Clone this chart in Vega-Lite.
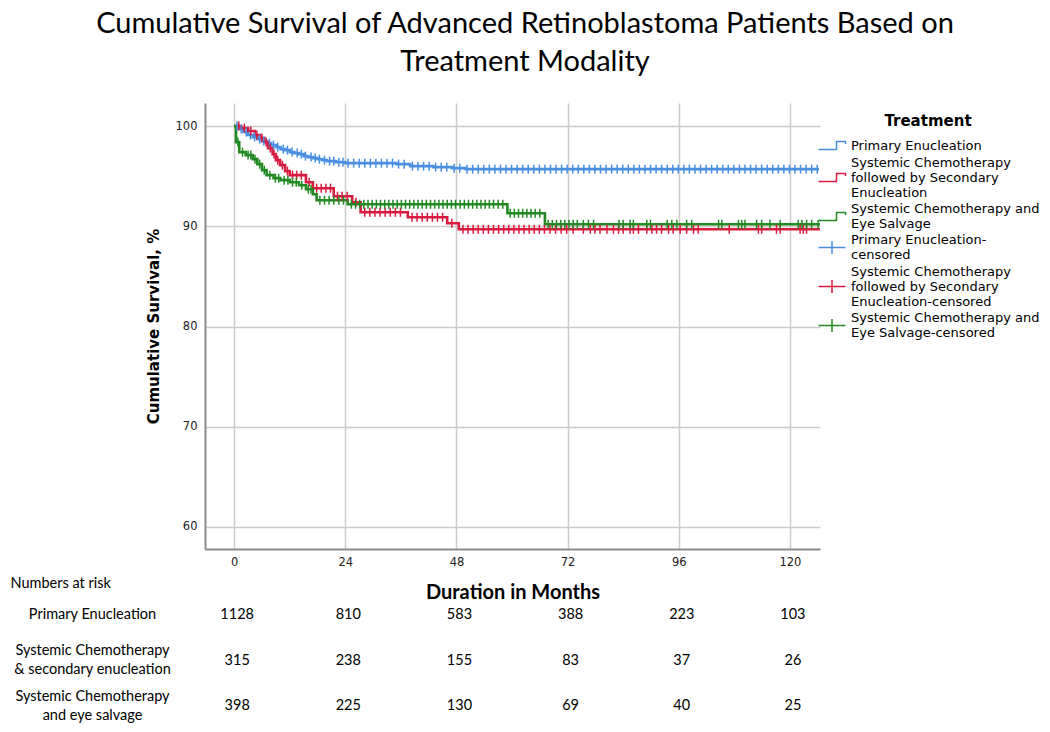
{
  "$schema": "https://vega.github.io/schema/vega-lite/v6.json",
  "padding": {"left": 10, "top": 10, "right": 0, "bottom": 0},
  "title": {
    "text": ["Cumulative Survival of Advanced Retinoblastoma Patients Based on", "Treatment Modality"],
    "font": "Lato", "fontSize": 29, "fontWeight": "normal", "color": "black",
    "lineHeight": 38, "anchor": "middle", "offset": 26
  },
  "bounds": "flush",
  "spacing": 43,
  "datasets": {
    "curves": [
      {"treatment": "PE", "month": 0, "survival": 100},
      {"treatment": "PE", "month": 1, "survival": 99.7},
      {"treatment": "PE", "month": 2, "survival": 99.4},
      {"treatment": "PE", "month": 3, "survival": 99.1},
      {"treatment": "PE", "month": 4, "survival": 98.9},
      {"treatment": "PE", "month": 5, "survival": 98.7},
      {"treatment": "PE", "month": 6, "survival": 98.5},
      {"treatment": "PE", "month": 7, "survival": 98.3},
      {"treatment": "PE", "month": 8, "survival": 98.1},
      {"treatment": "PE", "month": 9, "survival": 97.9},
      {"treatment": "PE", "month": 10, "survival": 97.7},
      {"treatment": "PE", "month": 11, "survival": 97.6},
      {"treatment": "PE", "month": 12, "survival": 97.4},
      {"treatment": "PE", "month": 13, "survival": 97.3},
      {"treatment": "PE", "month": 14, "survival": 97.2},
      {"treatment": "PE", "month": 15, "survival": 97.0},
      {"treatment": "PE", "month": 16, "survival": 96.9},
      {"treatment": "PE", "month": 17, "survival": 96.8},
      {"treatment": "PE", "month": 18, "survival": 96.7},
      {"treatment": "PE", "month": 19, "survival": 96.6},
      {"treatment": "PE", "month": 20, "survival": 96.5},
      {"treatment": "PE", "month": 22, "survival": 96.4},
      {"treatment": "PE", "month": 24, "survival": 96.3},
      {"treatment": "PE", "month": 35, "survival": 96.2},
      {"treatment": "PE", "month": 38, "survival": 96.0},
      {"treatment": "PE", "month": 43, "survival": 95.9},
      {"treatment": "PE", "month": 47, "survival": 95.8},
      {"treatment": "PE", "month": 50, "survival": 95.7},
      {"treatment": "PE", "month": 126.3, "survival": 95.7},
      {"treatment": "SCSE", "month": 0, "survival": 100},
      {"treatment": "SCSE", "month": 1.5, "survival": 99.8},
      {"treatment": "SCSE", "month": 3, "survival": 99.5},
      {"treatment": "SCSE", "month": 4.5, "survival": 99.1},
      {"treatment": "SCSE", "month": 5.6, "survival": 98.8},
      {"treatment": "SCSE", "month": 6.5, "survival": 98.4},
      {"treatment": "SCSE", "month": 7.3, "survival": 97.8},
      {"treatment": "SCSE", "month": 8.3, "survival": 97.2},
      {"treatment": "SCSE", "month": 9, "survival": 96.6},
      {"treatment": "SCSE", "month": 9.9, "survival": 96.1},
      {"treatment": "SCSE", "month": 11, "survival": 95.5},
      {"treatment": "SCSE", "month": 12, "survival": 95.1},
      {"treatment": "SCSE", "month": 15.5, "survival": 94.4},
      {"treatment": "SCSE", "month": 17, "survival": 93.8},
      {"treatment": "SCSE", "month": 21.5, "survival": 93.0},
      {"treatment": "SCSE", "month": 25.5, "survival": 92.4},
      {"treatment": "SCSE", "month": 27.3, "survival": 91.4},
      {"treatment": "SCSE", "month": 37.5, "survival": 90.9},
      {"treatment": "SCSE", "month": 46, "survival": 90.3},
      {"treatment": "SCSE", "month": 48.5, "survival": 89.7},
      {"treatment": "SCSE", "month": 126.5, "survival": 89.7},
      {"treatment": "SCES", "month": 0, "survival": 100},
      {"treatment": "SCES", "month": 0.4, "survival": 98.4},
      {"treatment": "SCES", "month": 1.1, "survival": 97.4},
      {"treatment": "SCES", "month": 2.5, "survival": 97.1},
      {"treatment": "SCES", "month": 4, "survival": 96.7},
      {"treatment": "SCES", "month": 5, "survival": 96.2},
      {"treatment": "SCES", "month": 6, "survival": 95.6},
      {"treatment": "SCES", "month": 7, "survival": 95.1},
      {"treatment": "SCES", "month": 8.5, "survival": 94.8},
      {"treatment": "SCES", "month": 10, "survival": 94.6},
      {"treatment": "SCES", "month": 12, "survival": 94.4},
      {"treatment": "SCES", "month": 14, "survival": 94.1},
      {"treatment": "SCES", "month": 15.5, "survival": 93.7},
      {"treatment": "SCES", "month": 17, "survival": 93.2},
      {"treatment": "SCES", "month": 17.8, "survival": 92.6},
      {"treatment": "SCES", "month": 24.5, "survival": 92.2},
      {"treatment": "SCES", "month": 59, "survival": 91.3},
      {"treatment": "SCES", "month": 67.1, "survival": 90.2},
      {"treatment": "SCES", "month": 126.5, "survival": 90.2}
    ],
    "censored": [
      {"treatment": "PE-c", "month": 0.6, "survival": 100},
      {"treatment": "PE-c", "month": 1.5, "survival": 99.7},
      {"treatment": "PE-c", "month": 2.6, "survival": 99.4},
      {"treatment": "PE-c", "month": 3.5, "survival": 99.1},
      {"treatment": "PE-c", "month": 4.4, "survival": 98.9},
      {"treatment": "PE-c", "month": 5.5, "survival": 98.7},
      {"treatment": "PE-c", "month": 6.4, "survival": 98.5},
      {"treatment": "PE-c", "month": 7.6, "survival": 98.3},
      {"treatment": "PE-c", "month": 8.5, "survival": 98.1},
      {"treatment": "PE-c", "month": 9.4, "survival": 97.9},
      {"treatment": "PE-c", "month": 10.6, "survival": 97.7},
      {"treatment": "PE-c", "month": 11.5, "survival": 97.6},
      {"treatment": "PE-c", "month": 12.5, "survival": 97.4},
      {"treatment": "PE-c", "month": 13.6, "survival": 97.3},
      {"treatment": "PE-c", "month": 14.5, "survival": 97.2},
      {"treatment": "PE-c", "month": 15.4, "survival": 97.0},
      {"treatment": "PE-c", "month": 16.6, "survival": 96.9},
      {"treatment": "PE-c", "month": 17.5, "survival": 96.8},
      {"treatment": "PE-c", "month": 18.4, "survival": 96.7},
      {"treatment": "PE-c", "month": 19.5, "survival": 96.6},
      {"treatment": "PE-c", "month": 20.6, "survival": 96.5},
      {"treatment": "PE-c", "month": 21.5, "survival": 96.5},
      {"treatment": "PE-c", "month": 22.6, "survival": 96.4},
      {"treatment": "PE-c", "month": 23.5, "survival": 96.4},
      {"treatment": "PE-c", "month": 24.6, "survival": 96.3},
      {"treatment": "PE-c", "month": 25.8, "survival": 96.3},
      {"treatment": "PE-c", "month": 27, "survival": 96.3},
      {"treatment": "PE-c", "month": 28.2, "survival": 96.3},
      {"treatment": "PE-c", "month": 29.4, "survival": 96.3},
      {"treatment": "PE-c", "month": 30.6, "survival": 96.3},
      {"treatment": "PE-c", "month": 31.8, "survival": 96.3},
      {"treatment": "PE-c", "month": 33, "survival": 96.3},
      {"treatment": "PE-c", "month": 34.2, "survival": 96.3},
      {"treatment": "PE-c", "month": 35.5, "survival": 96.2},
      {"treatment": "PE-c", "month": 36.7, "survival": 96.2},
      {"treatment": "PE-c", "month": 38.5, "survival": 96.0},
      {"treatment": "PE-c", "month": 39.7, "survival": 96.0},
      {"treatment": "PE-c", "month": 40.9, "survival": 96.0},
      {"treatment": "PE-c", "month": 42.1, "survival": 96.0},
      {"treatment": "PE-c", "month": 43.5, "survival": 95.9},
      {"treatment": "PE-c", "month": 44.7, "survival": 95.9},
      {"treatment": "PE-c", "month": 45.9, "survival": 95.9},
      {"treatment": "PE-c", "month": 47.5, "survival": 95.8},
      {"treatment": "PE-c", "month": 48.7, "survival": 95.8},
      {"treatment": "PE-c", "month": 50.3, "survival": 95.7},
      {"treatment": "PE-c", "month": 51.5, "survival": 95.7},
      {"treatment": "PE-c", "month": 52.7, "survival": 95.7},
      {"treatment": "PE-c", "month": 53.9, "survival": 95.7},
      {"treatment": "PE-c", "month": 55.1, "survival": 95.7},
      {"treatment": "PE-c", "month": 56.3, "survival": 95.7},
      {"treatment": "PE-c", "month": 57.5, "survival": 95.7},
      {"treatment": "PE-c", "month": 58.7, "survival": 95.7},
      {"treatment": "PE-c", "month": 59.9, "survival": 95.7},
      {"treatment": "PE-c", "month": 61.1, "survival": 95.7},
      {"treatment": "PE-c", "month": 62.3, "survival": 95.7},
      {"treatment": "PE-c", "month": 63.5, "survival": 95.7},
      {"treatment": "PE-c", "month": 64.7, "survival": 95.7},
      {"treatment": "PE-c", "month": 65.9, "survival": 95.7},
      {"treatment": "PE-c", "month": 67.1, "survival": 95.7},
      {"treatment": "PE-c", "month": 68.3, "survival": 95.7},
      {"treatment": "PE-c", "month": 69.5, "survival": 95.7},
      {"treatment": "PE-c", "month": 70.7, "survival": 95.7},
      {"treatment": "PE-c", "month": 71.9, "survival": 95.7},
      {"treatment": "PE-c", "month": 73.1, "survival": 95.7},
      {"treatment": "PE-c", "month": 74.3, "survival": 95.7},
      {"treatment": "PE-c", "month": 75.5, "survival": 95.7},
      {"treatment": "PE-c", "month": 76.7, "survival": 95.7},
      {"treatment": "PE-c", "month": 77.9, "survival": 95.7},
      {"treatment": "PE-c", "month": 79.1, "survival": 95.7},
      {"treatment": "PE-c", "month": 80.3, "survival": 95.7},
      {"treatment": "PE-c", "month": 81.5, "survival": 95.7},
      {"treatment": "PE-c", "month": 82.7, "survival": 95.7},
      {"treatment": "PE-c", "month": 83.9, "survival": 95.7},
      {"treatment": "PE-c", "month": 85.1, "survival": 95.7},
      {"treatment": "PE-c", "month": 86.3, "survival": 95.7},
      {"treatment": "PE-c", "month": 87.5, "survival": 95.7},
      {"treatment": "PE-c", "month": 88.7, "survival": 95.7},
      {"treatment": "PE-c", "month": 89.9, "survival": 95.7},
      {"treatment": "PE-c", "month": 91.1, "survival": 95.7},
      {"treatment": "PE-c", "month": 92.3, "survival": 95.7},
      {"treatment": "PE-c", "month": 93.5, "survival": 95.7},
      {"treatment": "PE-c", "month": 94.7, "survival": 95.7},
      {"treatment": "PE-c", "month": 95.9, "survival": 95.7},
      {"treatment": "PE-c", "month": 97.1, "survival": 95.7},
      {"treatment": "PE-c", "month": 98.3, "survival": 95.7},
      {"treatment": "PE-c", "month": 99.5, "survival": 95.7},
      {"treatment": "PE-c", "month": 100.7, "survival": 95.7},
      {"treatment": "PE-c", "month": 101.9, "survival": 95.7},
      {"treatment": "PE-c", "month": 103.1, "survival": 95.7},
      {"treatment": "PE-c", "month": 104.3, "survival": 95.7},
      {"treatment": "PE-c", "month": 105.5, "survival": 95.7},
      {"treatment": "PE-c", "month": 106.7, "survival": 95.7},
      {"treatment": "PE-c", "month": 107.9, "survival": 95.7},
      {"treatment": "PE-c", "month": 109.1, "survival": 95.7},
      {"treatment": "PE-c", "month": 110.3, "survival": 95.7},
      {"treatment": "PE-c", "month": 111.5, "survival": 95.7},
      {"treatment": "PE-c", "month": 112.7, "survival": 95.7},
      {"treatment": "PE-c", "month": 113.9, "survival": 95.7},
      {"treatment": "PE-c", "month": 115.1, "survival": 95.7},
      {"treatment": "PE-c", "month": 116.3, "survival": 95.7},
      {"treatment": "PE-c", "month": 117.5, "survival": 95.7},
      {"treatment": "PE-c", "month": 118.7, "survival": 95.7},
      {"treatment": "PE-c", "month": 119.9, "survival": 95.7},
      {"treatment": "PE-c", "month": 121.1, "survival": 95.7},
      {"treatment": "PE-c", "month": 122.3, "survival": 95.7},
      {"treatment": "PE-c", "month": 123.5, "survival": 95.7},
      {"treatment": "PE-c", "month": 124.7, "survival": 95.7},
      {"treatment": "PE-c", "month": 125.9, "survival": 95.7},
      {"treatment": "SCSE-c", "month": 1, "survival": 100},
      {"treatment": "SCSE-c", "month": 2.2, "survival": 99.8},
      {"treatment": "SCSE-c", "month": 3.6, "survival": 99.5},
      {"treatment": "SCSE-c", "month": 4.9, "survival": 99.1},
      {"treatment": "SCSE-c", "month": 6, "survival": 98.8},
      {"treatment": "SCSE-c", "month": 6.9, "survival": 98.4},
      {"treatment": "SCSE-c", "month": 7.8, "survival": 97.8},
      {"treatment": "SCSE-c", "month": 8.6, "survival": 97.2},
      {"treatment": "SCSE-c", "month": 9.4, "survival": 96.6},
      {"treatment": "SCSE-c", "month": 10.4, "survival": 96.1},
      {"treatment": "SCSE-c", "month": 11.5, "survival": 95.5},
      {"treatment": "SCSE-c", "month": 12.6, "survival": 95.1},
      {"treatment": "SCSE-c", "month": 13.5, "survival": 95.1},
      {"treatment": "SCSE-c", "month": 14.5, "survival": 95.1},
      {"treatment": "SCSE-c", "month": 16.2, "survival": 94.4},
      {"treatment": "SCSE-c", "month": 17.8, "survival": 93.8},
      {"treatment": "SCSE-c", "month": 18.8, "survival": 93.8},
      {"treatment": "SCSE-c", "month": 19.8, "survival": 93.8},
      {"treatment": "SCSE-c", "month": 20.8, "survival": 93.8},
      {"treatment": "SCSE-c", "month": 22.3, "survival": 93.0},
      {"treatment": "SCSE-c", "month": 23.3, "survival": 93.0},
      {"treatment": "SCSE-c", "month": 24.4, "survival": 93.0},
      {"treatment": "SCSE-c", "month": 26.3, "survival": 92.4},
      {"treatment": "SCSE-c", "month": 28.2, "survival": 91.4},
      {"treatment": "SCSE-c", "month": 29.3, "survival": 91.4},
      {"treatment": "SCSE-c", "month": 30.4, "survival": 91.4},
      {"treatment": "SCSE-c", "month": 31.5, "survival": 91.4},
      {"treatment": "SCSE-c", "month": 32.6, "survival": 91.4},
      {"treatment": "SCSE-c", "month": 33.7, "survival": 91.4},
      {"treatment": "SCSE-c", "month": 34.8, "survival": 91.4},
      {"treatment": "SCSE-c", "month": 35.9, "survival": 91.4},
      {"treatment": "SCSE-c", "month": 38.4, "survival": 90.9},
      {"treatment": "SCSE-c", "month": 39.5, "survival": 90.9},
      {"treatment": "SCSE-c", "month": 40.6, "survival": 90.9},
      {"treatment": "SCSE-c", "month": 41.7, "survival": 90.9},
      {"treatment": "SCSE-c", "month": 42.8, "survival": 90.9},
      {"treatment": "SCSE-c", "month": 43.9, "survival": 90.9},
      {"treatment": "SCSE-c", "month": 45, "survival": 90.9},
      {"treatment": "SCSE-c", "month": 47, "survival": 90.3},
      {"treatment": "SCSE-c", "month": 49.4, "survival": 89.7},
      {"treatment": "SCSE-c", "month": 50.5, "survival": 89.7},
      {"treatment": "SCSE-c", "month": 51.6, "survival": 89.7},
      {"treatment": "SCSE-c", "month": 52.7, "survival": 89.7},
      {"treatment": "SCSE-c", "month": 53.8, "survival": 89.7},
      {"treatment": "SCSE-c", "month": 54.9, "survival": 89.7},
      {"treatment": "SCSE-c", "month": 56, "survival": 89.7},
      {"treatment": "SCSE-c", "month": 57.1, "survival": 89.7},
      {"treatment": "SCSE-c", "month": 58.2, "survival": 89.7},
      {"treatment": "SCSE-c", "month": 59.3, "survival": 89.7},
      {"treatment": "SCSE-c", "month": 60.4, "survival": 89.7},
      {"treatment": "SCSE-c", "month": 61.5, "survival": 89.7},
      {"treatment": "SCSE-c", "month": 62.6, "survival": 89.7},
      {"treatment": "SCSE-c", "month": 63.7, "survival": 89.7},
      {"treatment": "SCSE-c", "month": 64.8, "survival": 89.7},
      {"treatment": "SCSE-c", "month": 65.9, "survival": 89.7},
      {"treatment": "SCSE-c", "month": 67, "survival": 89.7},
      {"treatment": "SCSE-c", "month": 68.2, "survival": 89.7},
      {"treatment": "SCSE-c", "month": 69.4, "survival": 89.7},
      {"treatment": "SCSE-c", "month": 70.6, "survival": 89.7},
      {"treatment": "SCSE-c", "month": 71.8, "survival": 89.7},
      {"treatment": "SCSE-c", "month": 73.2, "survival": 89.7},
      {"treatment": "SCSE-c", "month": 75.4, "survival": 89.7},
      {"treatment": "SCSE-c", "month": 76.9, "survival": 89.7},
      {"treatment": "SCSE-c", "month": 77.9, "survival": 89.7},
      {"treatment": "SCSE-c", "month": 79, "survival": 89.7},
      {"treatment": "SCSE-c", "month": 80.5, "survival": 89.7},
      {"treatment": "SCSE-c", "month": 81.9, "survival": 89.7},
      {"treatment": "SCSE-c", "month": 83, "survival": 89.7},
      {"treatment": "SCSE-c", "month": 84, "survival": 89.7},
      {"treatment": "SCSE-c", "month": 85.5, "survival": 89.7},
      {"treatment": "SCSE-c", "month": 86.2, "survival": 89.7},
      {"treatment": "SCSE-c", "month": 87.3, "survival": 89.7},
      {"treatment": "SCSE-c", "month": 89.1, "survival": 89.7},
      {"treatment": "SCSE-c", "month": 90.2, "survival": 89.7},
      {"treatment": "SCSE-c", "month": 91.2, "survival": 89.7},
      {"treatment": "SCSE-c", "month": 92.3, "survival": 89.7},
      {"treatment": "SCSE-c", "month": 93.8, "survival": 89.7},
      {"treatment": "SCSE-c", "month": 94.8, "survival": 89.7},
      {"treatment": "SCSE-c", "month": 96.3, "survival": 89.7},
      {"treatment": "SCSE-c", "month": 97.7, "survival": 89.7},
      {"treatment": "SCSE-c", "month": 99.2, "survival": 89.7},
      {"treatment": "SCSE-c", "month": 100.2, "survival": 89.7},
      {"treatment": "SCSE-c", "month": 106.9, "survival": 89.7},
      {"treatment": "SCSE-c", "month": 113.2, "survival": 89.7},
      {"treatment": "SCSE-c", "month": 113.9, "survival": 89.7},
      {"treatment": "SCSE-c", "month": 117.1, "survival": 89.7},
      {"treatment": "SCSE-c", "month": 117.9, "survival": 89.7},
      {"treatment": "SCSE-c", "month": 122.2, "survival": 89.7},
      {"treatment": "SCSE-c", "month": 122.9, "survival": 89.7},
      {"treatment": "SCSE-c", "month": 123.6, "survival": 89.7},
      {"treatment": "SCES-c", "month": 0.8, "survival": 98.4},
      {"treatment": "SCES-c", "month": 1.8, "survival": 97.4},
      {"treatment": "SCES-c", "month": 3, "survival": 97.1},
      {"treatment": "SCES-c", "month": 3.6, "survival": 97.1},
      {"treatment": "SCES-c", "month": 4.5, "survival": 96.7},
      {"treatment": "SCES-c", "month": 5.5, "survival": 96.2},
      {"treatment": "SCES-c", "month": 6.5, "survival": 95.6},
      {"treatment": "SCES-c", "month": 7.7, "survival": 95.1},
      {"treatment": "SCES-c", "month": 8.9, "survival": 94.8},
      {"treatment": "SCES-c", "month": 9.6, "survival": 94.8},
      {"treatment": "SCES-c", "month": 10.8, "survival": 94.6},
      {"treatment": "SCES-c", "month": 11.6, "survival": 94.6},
      {"treatment": "SCES-c", "month": 12.6, "survival": 94.4},
      {"treatment": "SCES-c", "month": 13.4, "survival": 94.4},
      {"treatment": "SCES-c", "month": 14.6, "survival": 94.1},
      {"treatment": "SCES-c", "month": 16, "survival": 93.7},
      {"treatment": "SCES-c", "month": 16.6, "survival": 93.7},
      {"treatment": "SCES-c", "month": 18.5, "survival": 92.6},
      {"treatment": "SCES-c", "month": 19.5, "survival": 92.6},
      {"treatment": "SCES-c", "month": 20.5, "survival": 92.6},
      {"treatment": "SCES-c", "month": 21.5, "survival": 92.6},
      {"treatment": "SCES-c", "month": 22.6, "survival": 92.6},
      {"treatment": "SCES-c", "month": 23.6, "survival": 92.6},
      {"treatment": "SCES-c", "month": 25.3, "survival": 92.2},
      {"treatment": "SCES-c", "month": 26.2, "survival": 92.2},
      {"treatment": "SCES-c", "month": 27.1, "survival": 92.2},
      {"treatment": "SCES-c", "month": 28, "survival": 92.2},
      {"treatment": "SCES-c", "month": 28.9, "survival": 92.2},
      {"treatment": "SCES-c", "month": 29.8, "survival": 92.2},
      {"treatment": "SCES-c", "month": 30.7, "survival": 92.2},
      {"treatment": "SCES-c", "month": 31.6, "survival": 92.2},
      {"treatment": "SCES-c", "month": 32.5, "survival": 92.2},
      {"treatment": "SCES-c", "month": 33.4, "survival": 92.2},
      {"treatment": "SCES-c", "month": 34.3, "survival": 92.2},
      {"treatment": "SCES-c", "month": 35.2, "survival": 92.2},
      {"treatment": "SCES-c", "month": 36.1, "survival": 92.2},
      {"treatment": "SCES-c", "month": 37, "survival": 92.2},
      {"treatment": "SCES-c", "month": 37.9, "survival": 92.2},
      {"treatment": "SCES-c", "month": 38.8, "survival": 92.2},
      {"treatment": "SCES-c", "month": 39.7, "survival": 92.2},
      {"treatment": "SCES-c", "month": 40.6, "survival": 92.2},
      {"treatment": "SCES-c", "month": 41.5, "survival": 92.2},
      {"treatment": "SCES-c", "month": 42.4, "survival": 92.2},
      {"treatment": "SCES-c", "month": 43.3, "survival": 92.2},
      {"treatment": "SCES-c", "month": 44.2, "survival": 92.2},
      {"treatment": "SCES-c", "month": 45.1, "survival": 92.2},
      {"treatment": "SCES-c", "month": 46, "survival": 92.2},
      {"treatment": "SCES-c", "month": 46.9, "survival": 92.2},
      {"treatment": "SCES-c", "month": 47.8, "survival": 92.2},
      {"treatment": "SCES-c", "month": 48.8, "survival": 92.2},
      {"treatment": "SCES-c", "month": 49.7, "survival": 92.2},
      {"treatment": "SCES-c", "month": 50.6, "survival": 92.2},
      {"treatment": "SCES-c", "month": 51.5, "survival": 92.2},
      {"treatment": "SCES-c", "month": 52.4, "survival": 92.2},
      {"treatment": "SCES-c", "month": 53.3, "survival": 92.2},
      {"treatment": "SCES-c", "month": 54.2, "survival": 92.2},
      {"treatment": "SCES-c", "month": 55.1, "survival": 92.2},
      {"treatment": "SCES-c", "month": 56, "survival": 92.2},
      {"treatment": "SCES-c", "month": 57, "survival": 92.2},
      {"treatment": "SCES-c", "month": 58, "survival": 92.2},
      {"treatment": "SCES-c", "month": 59.6, "survival": 91.3},
      {"treatment": "SCES-c", "month": 60.5, "survival": 91.3},
      {"treatment": "SCES-c", "month": 61.4, "survival": 91.3},
      {"treatment": "SCES-c", "month": 62.3, "survival": 91.3},
      {"treatment": "SCES-c", "month": 63.2, "survival": 91.3},
      {"treatment": "SCES-c", "month": 64.1, "survival": 91.3},
      {"treatment": "SCES-c", "month": 65, "survival": 91.3},
      {"treatment": "SCES-c", "month": 66, "survival": 91.3},
      {"treatment": "SCES-c", "month": 67.8, "survival": 90.2},
      {"treatment": "SCES-c", "month": 68.7, "survival": 90.2},
      {"treatment": "SCES-c", "month": 69.6, "survival": 90.2},
      {"treatment": "SCES-c", "month": 70.5, "survival": 90.2},
      {"treatment": "SCES-c", "month": 71.4, "survival": 90.2},
      {"treatment": "SCES-c", "month": 72.3, "survival": 90.2},
      {"treatment": "SCES-c", "month": 73.2, "survival": 90.2},
      {"treatment": "SCES-c", "month": 74.1, "survival": 90.2},
      {"treatment": "SCES-c", "month": 75.4, "survival": 90.2},
      {"treatment": "SCES-c", "month": 76.5, "survival": 90.2},
      {"treatment": "SCES-c", "month": 77.6, "survival": 90.2},
      {"treatment": "SCES-c", "month": 83.1, "survival": 90.2},
      {"treatment": "SCES-c", "month": 84, "survival": 90.2},
      {"treatment": "SCES-c", "month": 85.5, "survival": 90.2},
      {"treatment": "SCES-c", "month": 86.2, "survival": 90.2},
      {"treatment": "SCES-c", "month": 89.1, "survival": 90.2},
      {"treatment": "SCES-c", "month": 89.9, "survival": 90.2},
      {"treatment": "SCES-c", "month": 93.5, "survival": 90.2},
      {"treatment": "SCES-c", "month": 94.5, "survival": 90.2},
      {"treatment": "SCES-c", "month": 95.6, "survival": 90.2},
      {"treatment": "SCES-c", "month": 97.7, "survival": 90.2},
      {"treatment": "SCES-c", "month": 98.8, "survival": 90.2},
      {"treatment": "SCES-c", "month": 104.6, "survival": 90.2},
      {"treatment": "SCES-c", "month": 105.3, "survival": 90.2},
      {"treatment": "SCES-c", "month": 108.9, "survival": 90.2},
      {"treatment": "SCES-c", "month": 109.6, "survival": 90.2},
      {"treatment": "SCES-c", "month": 110.3, "survival": 90.2},
      {"treatment": "SCES-c", "month": 112.8, "survival": 90.2},
      {"treatment": "SCES-c", "month": 113.9, "survival": 90.2},
      {"treatment": "SCES-c", "month": 115.7, "survival": 90.2},
      {"treatment": "SCES-c", "month": 117.9, "survival": 90.2},
      {"treatment": "SCES-c", "month": 121.8, "survival": 90.2},
      {"treatment": "SCES-c", "month": 122.6, "survival": 90.2},
      {"treatment": "SCES-c", "month": 123.6, "survival": 90.2},
      {"treatment": "SCES-c", "month": 124.7, "survival": 90.2},
      {"treatment": "SCES-c", "month": 126.1, "survival": 90.2}
    ],
    "risk": [
      {"group": "Primary Enucleation", "month": 0, "n": "1128"},
      {"group": "Primary Enucleation", "month": 24, "n": "810"},
      {"group": "Primary Enucleation", "month": 48, "n": "583"},
      {"group": "Primary Enucleation", "month": 72, "n": "388"},
      {"group": "Primary Enucleation", "month": 96, "n": "223"},
      {"group": "Primary Enucleation", "month": 120, "n": "103"},
      {"group": "Systemic Chemotherapy & secondary enucleation", "month": 0, "n": "315"},
      {"group": "Systemic Chemotherapy & secondary enucleation", "month": 24, "n": "238"},
      {"group": "Systemic Chemotherapy & secondary enucleation", "month": 48, "n": "155"},
      {"group": "Systemic Chemotherapy & secondary enucleation", "month": 72, "n": "83"},
      {"group": "Systemic Chemotherapy & secondary enucleation", "month": 96, "n": "37"},
      {"group": "Systemic Chemotherapy & secondary enucleation", "month": 120, "n": "26"},
      {"group": "Systemic Chemotherapy and eye salvage", "month": 0, "n": "398"},
      {"group": "Systemic Chemotherapy and eye salvage", "month": 24, "n": "225"},
      {"group": "Systemic Chemotherapy and eye salvage", "month": 48, "n": "130"},
      {"group": "Systemic Chemotherapy and eye salvage", "month": 72, "n": "69"},
      {"group": "Systemic Chemotherapy and eye salvage", "month": 96, "n": "40"},
      {"group": "Systemic Chemotherapy and eye salvage", "month": 120, "n": "25"}
    ]
  },
  "vconcat": [
    {
      "width": 615,
      "height": 446,
      "encoding": {
        "x": {
          "field": "month", "type": "quantitative",
          "scale": {"domain": [-6.3, 126.5], "nice": false, "zero": false},
          "axis": {
            "values": [0, 24, 48, 72, 96, 120],
            "title": "Duration in Months",
            "titleFont": "Lato", "titleFontSize": 20, "titleFontWeight": "bold", "titleColor": "black",
            "titlePadding": 15,
            "labelFont": "DejaVu Sans", "labelFontSize": 11.5, "labelColor": "#222222", "labelPadding": 7,
            "ticks": false, "grid": true, "gridColor": "#cccccc", "gridWidth": 1.5,
            "domainColor": "#8c8c8c", "domainWidth": 2
          }
        },
        "y": {
          "field": "survival", "type": "quantitative",
          "scale": {"domain": [57.8, 102.3], "nice": false, "zero": false},
          "axis": {
            "values": [60, 70, 80, 90, 100],
            "title": "Cumulative Survival, %",
            "titleFont": "DejaVu Sans", "titleFontSize": 15, "titleFontWeight": "bold", "titleColor": "black",
            "titlePadding": 14,
            "labelFont": "DejaVu Sans", "labelFontSize": 11.5, "labelColor": "#222222", "labelPadding": 8,
            "ticks": false, "grid": true, "gridColor": "#cccccc", "gridWidth": 1.5,
            "domainColor": "#8c8c8c", "domainWidth": 2
          }
        },
        "color": {
          "field": "treatment", "type": "nominal",
          "scale": {
            "domain": ["PE", "SCSE", "SCES", "PE-c", "SCSE-c", "SCES-c"],
            "range": ["#4a8fe2", "#d81b3f", "#238a23", "#4a8fe2", "#d81b3f", "#238a23"]
          },
          "legend": {
            "title": "Treatment",
            "orient": "none", "legendX": 612, "legendY": 11,
            "titleFont": "DejaVu Sans", "titleFontSize": 15, "titleFontWeight": "bold", "titleColor": "black",
            "titleAnchor": "middle", "titlePadding": 10,
            "labelFont": "DejaVu Sans", "labelFontSize": 13, "labelColor": "black", "labelLimit": 0,
            "labelOffset": 21,
            "symbolSize": 100, "symbolStrokeWidth": 1.5, "symbolFillColor": "transparent",
            "symbolType": "M-1,0.8H2.6V-0.8H4.4V-0.3",
            "rowPadding": 3,
            "labelExpr": "datum.value == 'PE' ? 'Primary Enucleation' : datum.value == 'SCSE' ? ['Systemic Chemotherapy', 'followed by Secondary', 'Enucleation'] : datum.value == 'SCES' ? ['Systemic Chemotherapy and', 'Eye Salvage'] : datum.value == 'PE-c' ? ['Primary Enucleation-', 'censored'] : datum.value == 'SCSE-c' ? ['Systemic Chemotherapy', 'followed by Secondary', 'Enucleation-censored'] : ['Systemic Chemotherapy and', 'Eye Salvage-censored']",
            "encode": {
              "symbols": {
                "update": {
                  "shape": {"signal": "indexof(datum.value, '-c') >= 0 ? 'M-1,0H4.4M1.7,-1.3V1.3' : 'M-1,0.8H2.6V-0.8H4.4V-0.3'"},
                  "fill": {"value": "transparent"}
                }
              },
              "labels": {
                "update": {
                  "lineHeight": {"value": 15},
                  "dy": {"signal": "indexof(datum.value, 'SCSE') >= 0 ? -15 : datum.value == 'PE' ? 0 : -7.5"}
                }
              }
            }
          }
        }
      },
      "layer": [
        {
          "data": {"name": "curves"},
          "mark": {"type": "line", "interpolate": "step-after", "strokeWidth": 2.6}
        },
        {
          "data": {"name": "censored"},
          "mark": {"type": "point", "shape": "M0,-1V1", "size": 81, "strokeWidth": 1.5, "filled": false, "opacity": 1}
        }
      ]
    },
    {
      "width": 615,
      "height": 137,
      "data": {"name": "risk"},
      "mark": {"type": "text", "font": "Lato", "fontSize": 14.5, "color": "black", "dx": 3},
      "encoding": {
        "x": {
          "field": "month", "type": "quantitative",
          "scale": {"domain": [-6.3, 126.5], "nice": false, "zero": false},
          "axis": null
        },
        "y": {
          "field": "group", "type": "nominal",
          "sort": ["Primary Enucleation", "Systemic Chemotherapy & secondary enucleation", "Systemic Chemotherapy and eye salvage"],
          "scale": {"type": "point", "padding": 0.5},
          "axis": {
            "title": "Numbers at risk",
            "titleAngle": 0, "titleAlign": "left", "titleBaseline": "middle",
            "titleX": -195, "titleY": -9,
            "titleFont": "Lato", "titleFontSize": 14.5, "titleFontWeight": "normal", "titleColor": "black",
            "labelExpr": "datum.value == 'Primary Enucleation' ? 'Primary Enucleation' : datum.value == 'Systemic Chemotherapy & secondary enucleation' ? ['Systemic Chemotherapy', '& secondary enucleation'] : ['Systemic Chemotherapy', 'and eye salvage']",
            "labelOffset": {"condition": {"test": "datum.value == 'Primary Enucleation'", "value": 0}, "value": -10},
            "labelAlign": "center", "labelBaseline": "middle", "labelPadding": 113, "labelLimit": 0,
            "labelFont": "Lato", "labelFontSize": 14.5, "labelColor": "black", "labelLineHeight": 19,
            "ticks": false, "domain": false, "grid": false
          }
        },
        "text": {"field": "n"}
      }
    }
  ],
  "config": {
    "view": {"stroke": null}
  }
}
